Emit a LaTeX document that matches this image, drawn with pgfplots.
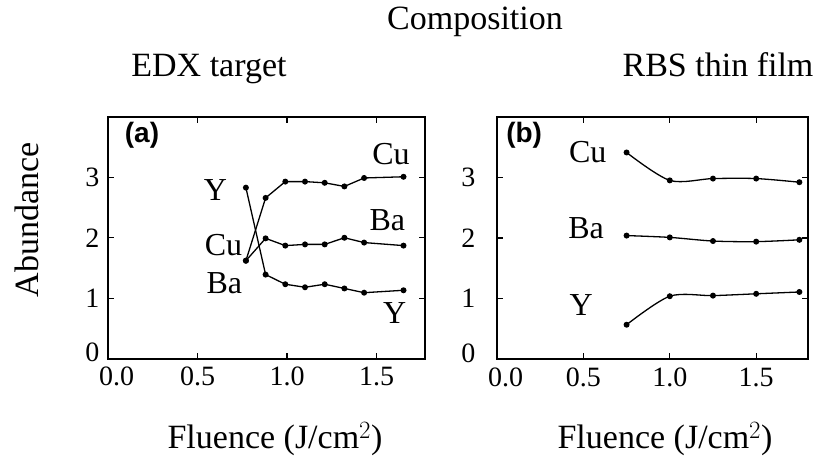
\documentclass[border=0pt]{standalone}
\usepackage{fontspec}
\setmainfont{Liberation Serif}
\newfontfamily\panelfont{Liberation Sans}
\usepackage{pgfplots}
\pgfplotsset{compat=1.18}

\newcommand\lblfont{\fontsize{34}{38}\selectfont}
\newcommand\curvefont{\fontsize{32}{36}\selectfont}

\pgfplotsset{
  ser/.style={black, solid, line width=1.3pt, mark=*, mark size=2.3pt,
    mark options={solid, fill=black}},
  comp/.style={
    scale only axis,
    anchor=south west,
    ymin=0, ymax=4,
    xtick={0,0.5,1,1.5},
    xticklabels={\hspace*{17pt}0.0,0.5,1.0,1.5},
    ytick={0,1,2,3},
    yticklabels={\raisebox{12pt}{0},1,2,3},
    tick align=inside,
    major tick length=6pt,
    tick style={line width=1.2pt, black},
    axis line style={line width=2pt},
    /pgf/number format/assume math mode=true,
    tick label style={font=\rmfamily\fontsize{28}{30}\selectfont},
    x tick label style={yshift=-5pt},
    clip=false,
  }
}

\begin{document}
\begin{tikzpicture}[x=1pt,y=1pt]
\useasboundingbox (0,0) rectangle (819,459);

% (a) EDX analysis of the target
\begin{axis}[comp, at={(108pt,100.5pt)}, width=317pt, height=241.5pt,
    xmin=0, xmax=1.77, y tick label style={xshift=-5pt}]
  \addplot[ser] coordinates {(0.77,1.62) (0.88,2.66) (0.99,2.93) (1.10,2.93)
    (1.21,2.91) (1.32,2.85) (1.43,2.99) (1.65,3.01)};
  \addplot[ser] coordinates {(0.77,1.62) (0.88,1.99) (0.99,1.87) (1.10,1.89)
    (1.21,1.89) (1.32,2.00) (1.43,1.92) (1.65,1.87)};
  \addplot[ser] coordinates {(0.77,2.83) (0.88,1.39) (0.99,1.23) (1.10,1.18)
    (1.21,1.23) (1.32,1.16) (1.43,1.09) (1.65,1.13)};
  \node[font=\panelfont\bfseries\fontsize{28}{30}\selectfont] at (axis cs:0.19,3.69) {(a)};
  \node[font=\curvefont] at (axis cs:1.58,3.39) {Cu};
  \node[font=\curvefont] at (axis cs:1.56,2.29) {Ba};
  \node[font=\curvefont] at (axis cs:1.60,0.75) {Y};
  \node[font=\curvefont] at (axis cs:0.60,2.79) {Y};
  \node[font=\curvefont] at (axis cs:0.645,1.88) {Cu};
  \node[font=\curvefont] at (axis cs:0.65,1.24) {Ba};
\end{axis}

% (b) RBS analysis of the deposited film
\begin{axis}[comp, at={(497pt,99.7pt)}, width=311pt, height=242.6pt,
    xmin=0, xmax=1.8, y tick label style={xshift=-18pt}]
  \addplot[ser, smooth] coordinates {(0.75,3.41) (1.0,2.95) (1.25,2.98) (1.5,2.98) (1.75,2.92)};
  \addplot[ser, smooth] coordinates {(0.75,2.04) (1.0,2.01) (1.25,1.95) (1.5,1.94) (1.75,1.97)};
  \addplot[ser, smooth] coordinates {(0.75,0.57) (1.0,1.04) (1.25,1.05) (1.5,1.08) (1.75,1.11)};
  \node[font=\panelfont\bfseries\fontsize{28}{30}\selectfont] at (axis cs:0.157,3.69) {(b)};
  \node[font=\curvefont] at (axis cs:0.525,3.41) {Cu};
  \node[font=\curvefont] at (axis cs:0.516,2.16) {Ba};
  \node[font=\curvefont] at (axis cs:0.487,0.90) {Y};
\end{axis}

% titles and axis labels
\node[font=\lblfont, anchor=base] at (475,429) {Composition};
\node[font=\lblfont, anchor=base] at (209,382) {EDX target};
\node[font=\lblfont, anchor=base] at (718,382) {RBS thin film};
\node[font=\lblfont, rotate=90] at (27,239) {Abundance};
\node[font=\lblfont, anchor=base] at (275,11) {Fluence (J/cm$^{2}$)};
\node[font=\lblfont, anchor=base] at (665,11) {Fluence (J/cm$^{2}$)};
\end{tikzpicture}
\end{document}
